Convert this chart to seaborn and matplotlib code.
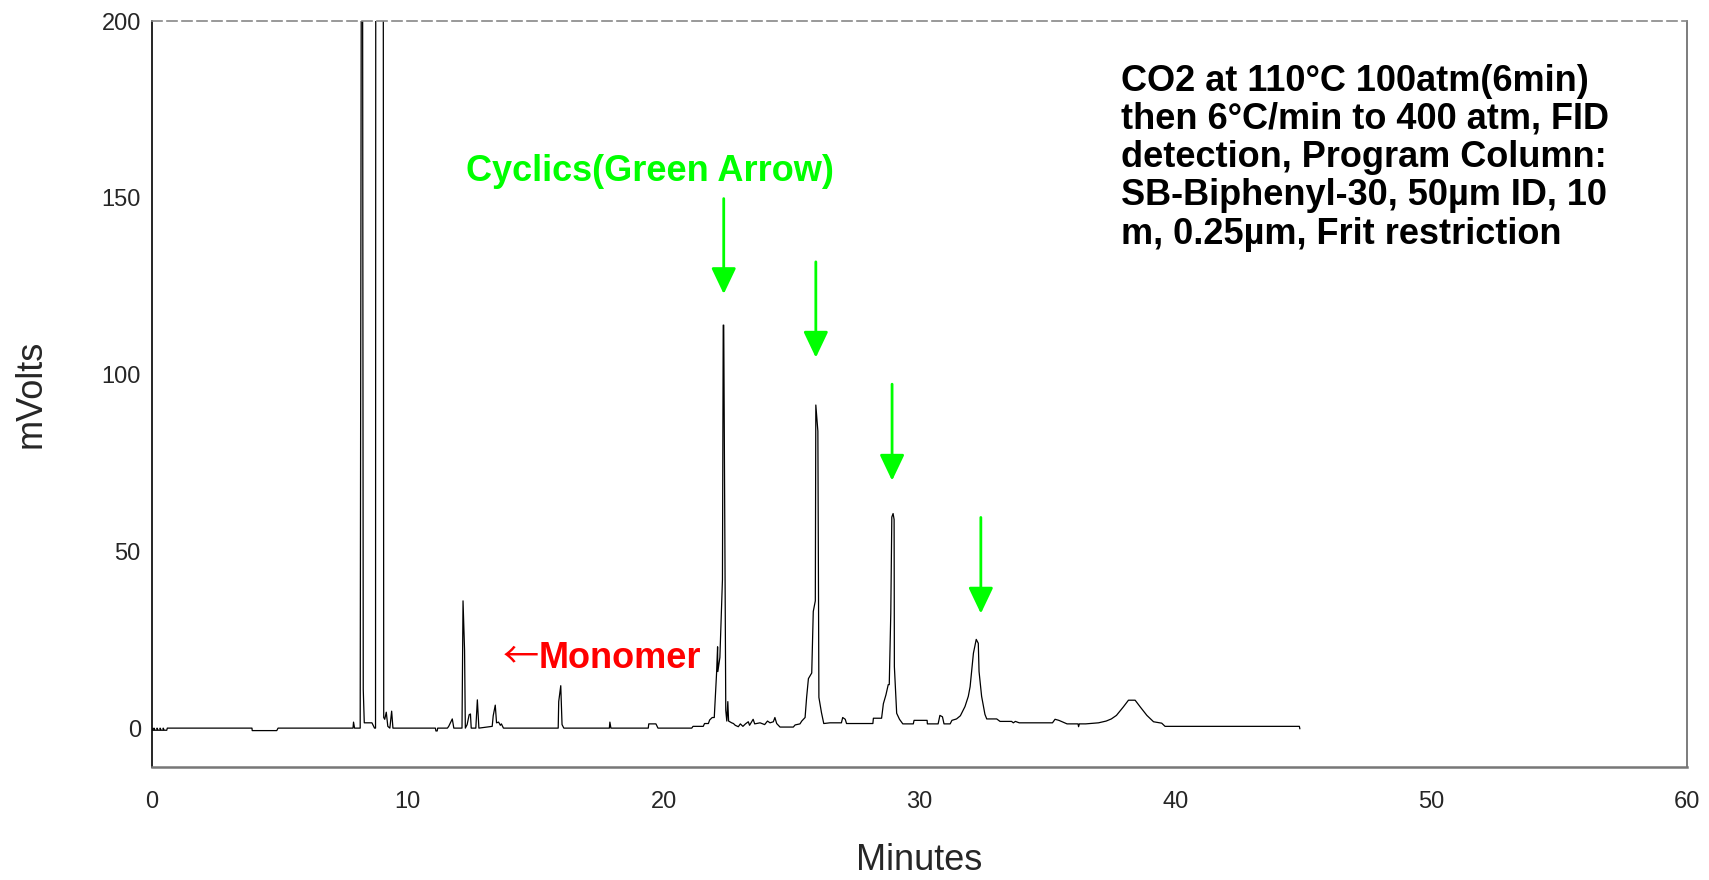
import matplotlib
matplotlib.use("Agg")
import matplotlib.pyplot as plt
import seaborn as sns
import pandas as pd

# ---- data (minutes, mV); off-scale peaks set to 250 ----
minutes = [
    0.00, 0.03, 0.08, 0.08, 0.12, 0.20, 0.20, 0.24, 0.32, 0.32, 0.36, 0.44, 0.44, 0.48, 0.58, 0.60,
    3.91, 3.92, 4.88, 4.93, 7.86, 7.88, 7.92,
    8.14, 8.19, 8.23, 8.26, 8.30, 8.60, 8.70, 8.74, 8.75, 9.04, 9.06, 9.10, 9.16, 9.22, 9.30, 9.37, 9.42,
    11.08, 11.10, 11.15, 11.17, 11.55, 11.60, 11.74, 11.80,
    12.12, 12.16, 12.22, 12.25, 12.32, 12.40, 12.45, 12.48, 12.66, 12.72, 12.78,
    13.30, 13.34, 13.42, 13.47, 13.55, 13.62, 13.66, 13.74,
    15.88, 15.90, 15.98, 16.03, 16.10, 17.88, 17.90, 17.94, 19.40, 19.42, 19.70, 19.78,
    20.70, 21.10, 21.15, 21.55, 21.60, 21.75, 21.80, 21.90, 21.98,
    22.07, 22.11, 22.12, 22.20, 22.30, 22.33, 22.35, 22.43, 22.47, 22.51, 22.54, 22.66,
    22.73, 22.80, 22.92, 23.00, 23.10, 23.20, 23.31, 23.36, 23.50, 23.56, 23.77, 23.95,
    24.06, 24.16, 24.29, 24.35, 24.42, 24.55, 25.07, 25.14, 25.33, 25.40,
    25.53, 25.59, 25.66, 25.79, 25.85, 25.93, 25.95, 26.03, 26.07, 26.17, 26.26,
    26.50, 26.95, 27.00, 27.10, 27.15, 28.18, 28.20, 28.52,
    28.59, 28.69, 28.78, 28.82, 28.88, 28.92, 28.97, 29.01, 29.02, 29.11, 29.22, 29.35,
    29.76, 29.79, 30.30, 30.31, 30.73, 30.80, 30.90, 30.96, 31.20, 31.27, 31.45, 31.60,
    31.78, 31.91, 31.98, 32.11, 32.22, 32.30, 32.33, 32.43, 32.56, 32.63,
    33.02, 33.15, 33.60, 33.67, 33.75, 33.90, 35.20, 35.30, 35.45, 35.77,
    36.20, 36.22, 36.25, 36.50, 37.00, 37.30, 37.50, 37.70, 37.97, 38.17, 38.43, 38.63,
    38.89, 39.15, 39.47, 39.60, 44.85, 44.87,
]
mvolts = [
    0.0, -0.6, -0.6, 0.0, -0.6, -0.6, 0.0, -0.6, -0.6, 0.0, -0.6, -0.6, 0.0, -0.6, -0.6, 0.0,
    0.0, -0.7, -0.7, 0.0, 0.0, 1.7, 0.0,
    0.0, 250, 250, 11.0, 1.5, 1.5, 0.0, 0.0, 250, 250, 3.0, 2.5, 4.5, 0.5, 0.0, 4.8, 0.0,
    0.0, -0.8, -0.8, 0.0, 0.0, 0.5, 2.6, 0.0,
    0.0, 36.0, 22.0, 0.0, 1.0, 3.8, 4.0, 0.0, 0.0, 8.0, 0.0,
    0.5, 3.5, 6.5, 1.5, 1.7, 0.8, 1.2, 0.0,
    0.0, 7.5, 12.0, 1.0, 0.0, 0.0, 1.7, 0.0, 0.0, 1.2, 1.2, 0.0,
    0.0, 0.0, 0.5, 0.5, 1.3, 1.3, 2.3, 3.0, 3.0,
    15.5, 23.0, 16.0, 20.0, 42.0, 114.0, 114.0, 5.0, 2.0, 7.5, 2.0, 1.5,
    1.3, 0.8, 0.4, 1.2, 0.5, 1.2, 1.8, 0.8, 2.5, 1.2, 1.5, 1.0,
    2.0, 1.5, 1.8, 3.0, 1.3, 0.3, 0.3, 0.9, 1.2, 2.0,
    3.0, 8.7, 14.0, 15.6, 33.0, 36.0, 91.4, 84.0, 8.7, 4.4, 1.3,
    1.5, 1.5, 3.0, 2.5, 1.3, 1.3, 2.8, 2.8,
    6.9, 9.4, 12.3, 12.3, 32.5, 59.7, 60.7, 59.0, 17.4, 4.2, 2.5, 1.2,
    1.2, 2.2, 2.2, 1.2, 1.2, 3.6, 3.2, 1.2, 1.2, 2.2, 2.6, 3.5,
    6.1, 9.0, 11.7, 21.2, 25.1, 24.0, 16.0, 9.0, 3.9, 2.6,
    2.6, 1.9, 1.9, 1.5, 1.9, 1.5, 1.5, 2.5, 2.2, 1.2,
    1.2, 0.4, 1.2, 1.2, 1.5, 2.0, 2.6, 3.6, 6.0, 7.9, 7.9, 6.0,
    3.6, 1.8, 1.4, 0.5, 0.5, -0.2,
]

# green arrows marking the cyclics: x position, tail y, head y
arrow_x = [22.35, 25.95, 28.93, 32.40]
arrow_top = [149.8, 131.9, 97.3, 59.6]
arrow_tip = [122.8, 104.8, 70.0, 32.4]

x_ticks = [0, 10, 20, 30, 40, 50, 60]
y_ticks = [0, 50, 100, 150, 200]

info_text = ("CO2 at 110°C 100atm(6min)\nthen 6°C/min to 400 atm, FID\n"
             "detection, Program Column:\nSB-Biphenyl-30, 50µm ID, 10\n"
             "m, 0.25µm, Frit restriction")

# ---- plotting ----
sns.set_style("white")
plt.rcParams['font.family'] = ['Liberation Sans', 'DejaVu Sans']

fig = plt.figure(figsize=(17.09, 8.8), dpi=100)
ax = fig.add_axes([0.0889, 0.1284, 0.8982, 0.8476])

df = pd.DataFrame({"Minutes": minutes, "mVolts": mvolts})
sns.lineplot(data=df, x="Minutes", y="mVolts", sort=False, estimator=None,
             color="black", linewidth=0.9, ax=ax)

ax.set_xlim(0, 60)
ax.set_ylim(-11, 200)
ax.set_xticks(x_ticks)
ax.set_yticks(y_ticks)
ax.tick_params(axis="both", length=0, labelsize=17)
ax.tick_params(axis="x", pad=17)
ax.tick_params(axis="y", pad=8)
ax.set_xlabel("Minutes", fontsize=26, labelpad=22)
ax.set_ylabel("mVolts", fontsize=26, labelpad=38)

for s in ax.spines.values():
    s.set_visible(True)
ax.spines["left"].set_color("black")
ax.spines["left"].set_linewidth(1.2)
ax.spines["bottom"].set_color("#777777")
ax.spines["bottom"].set_linewidth(1.8)
ax.spines["right"].set_color("#666666")
ax.spines["right"].set_linewidth(1.2)
ax.spines["top"].set_color("#888888")
ax.spines["top"].set_linewidth(1.2)
ax.spines["top"].set_linestyle((0, (6, 3)))

lime = "#00FF00"
for xa, yt, yh in zip(arrow_x, arrow_top, arrow_tip):
    ax.annotate("", xy=(xa, yh), xytext=(xa, yt),
                arrowprops=dict(arrowstyle="-|>,head_length=0.8,head_width=0.38",
                                color=lime, lw=2, mutation_scale=20,
                                shrinkA=0, shrinkB=0))

ax.text(19.45, 157.6, "Cyclics(Green Arrow)", color=lime, fontsize=26,
        fontweight="bold", ha="center", va="center")
ax.text(13.70, 20.0, "←", color="red", fontsize=26,
        family=["Noto Sans CJK SC", "DejaVu Sans"], ha="left", va="center")
ax.text(15.13, 19.8, "Monomer", color="red", fontsize=26,
        fontweight="bold", ha="left", va="center")
ax.text(37.86, 188, info_text, color="black", fontsize=26, fontweight="bold",
        ha="left", va="top", linespacing=1.12)

fig.savefig("out.png", dpi=100)
